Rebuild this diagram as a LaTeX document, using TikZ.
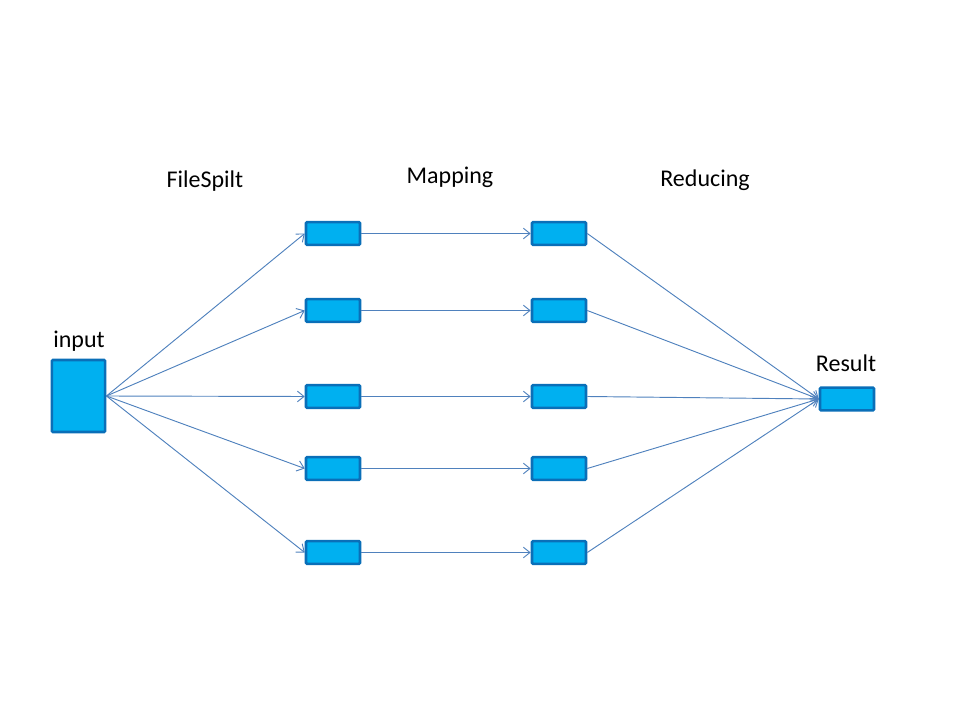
\documentclass[tikz,border=0pt]{standalone}
\usepackage{fontspec}
\setmainfont{Carlito}
\usetikzlibrary{arrows.meta}
\definecolor{boxfill}{HTML}{00B0F0}
\definecolor{boxline}{HTML}{0A6FB8}
\definecolor{arr}{HTML}{4F81BD}
\begin{document}
\begin{tikzpicture}[x=0.75pt,y=-0.75pt,
  blk/.style={draw=boxline,fill=boxfill,line width=1.9pt,rounded corners=0.8pt,inner sep=0pt},
  small/.style={blk,minimum width=40.5pt,minimum height=17pt},
  lbl/.style={font=\fontsize{18}{21}\selectfont,inner sep=0pt},
  conn/.style={draw=arr,line width=0.7pt,-{Straight Barb[length=5pt,width=8pt,line width=0.7pt]}}]
\useasboundingbox (0,0) rectangle (960,720);
\node[blk,minimum width=40pt,minimum height=54pt] (in) at (78.5,396) {};
\node[lbl] (lin) at (79,341) {input};
\node[lbl] (lfs) at (205,181) {FileSpilt};
\node[lbl] (lmap) at (450,177) {Mapping};
\node[lbl] (lred) at (705,180) {Reducing};
\node[lbl] (lres) at (846,363) {Result};
\node[small] (res) at (847,399) {};
\foreach \i/\y in {1/233.5,2/310.5,3/396.5,4/468.5,5/552.5}{
  \node[small] (a\i) at (333,\y) {};
  \node[small] (b\i) at (559,\y) {};
}
\foreach \i in {1,...,5}{
  \draw[conn] (in.east) -- (a\i.west);
  \draw[conn] (a\i.east) -- (b\i.west);
  \draw[conn] (b\i.east) -- (res.west);
}
\end{tikzpicture}
\end{document}
